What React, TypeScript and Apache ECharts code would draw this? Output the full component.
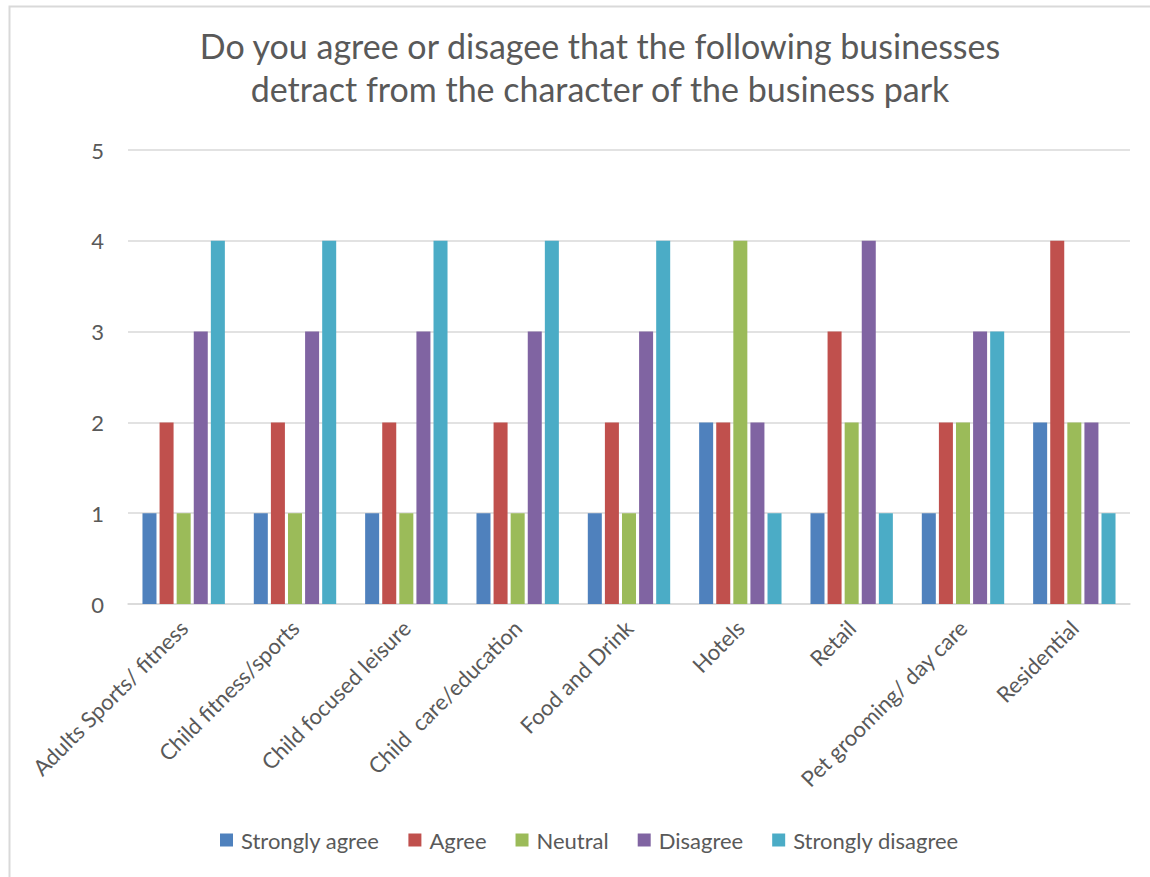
import React, { useEffect, useRef } from "react";
import * as echarts from "echarts";

const categories = [
  "Adults Sports/ fitness",
  "Child fitness/sports",
  "Child focused leisure",
  "Child  care/education",
  "Food and Drink",
  "Hotels",
  "Retail",
  "Pet grooming/ day care",
  "Residential",
];
const seriesNames = ["Strongly agree", "Agree", "Neutral", "Disagree", "Strongly disagree"];
const stronglyAgree = [1, 1, 1, 1, 1, 2, 1, 1, 2];
const agree = [2, 2, 2, 2, 2, 2, 3, 2, 4];
const neutral = [1, 1, 1, 1, 1, 4, 2, 2, 2];
const disagree = [3, 3, 3, 3, 3, 2, 4, 3, 2];
const stronglyDisagree = [4, 4, 4, 4, 4, 1, 1, 3, 1];
const seriesData = [stronglyAgree, agree, neutral, disagree, stronglyDisagree];
const colors = ["#4F81BD", "#C0504D", "#9BBB59", "#8064A2", "#4BACC6"];
const yTicks = [0, 1, 2, 3, 4, 5];

const FONT = "Lato, 'Open Sans', sans-serif";
const TXT = "#595959";

export default function App() {
  const ref = useRef<HTMLDivElement>(null);
  useEffect(() => {
    document.body.style.margin = "0";
    const chart = echarts.init(ref.current!, null, { renderer: "svg" });
    chart.setOption({
      animation: false,
      backgroundColor: "#ffffff",
      textStyle: { fontFamily: FONT },
      title: {
        text: "Do you agree or disagee that the following businesses\ndetract from the character of the business park",
        left: 595,
        textAlign: "center",
        top: 19,
        textStyle: {
          fontFamily: FONT,
          fontSize: 34,
          fontWeight: "normal",
          color: TXT,
          lineHeight: 43,
        },
      },
      graphic: [
        {
          type: "rect",
          shape: { x: 9.5, y: 6.5, width: 1200, height: 1000 },
          style: { fill: "none", stroke: "#D9D9D9", lineWidth: 2 },
          silent: true,
        },
      ],
      legend: {
        bottom: 21,
        left: 215,
        itemWidth: 13,
        itemHeight: 13,
        itemGap: 29,
        icon: "rect",
        textStyle: { fontFamily: FONT, fontSize: 22, color: TXT, padding: [0, 0, 0, 3] },
        data: seriesNames,
      },
      grid: { left: 128, right: 20, top: 150, bottom: 273 },
      xAxis: {
        type: "category",
        data: categories,
        axisLine: { lineStyle: { color: "#D9D9D9", width: 1.5 } },
        axisTick: { show: false },
        axisLabel: {
          rotate: 45,
          interval: 0,
          fontFamily: FONT,
          fontSize: 22,
          color: TXT,
          margin: 20,
        },
      },
      yAxis: {
        type: "value",
        min: yTicks[0],
        max: yTicks[yTicks.length - 1],
        interval: 1,
        axisLine: { show: false },
        axisTick: { show: false },
        axisLabel: { fontFamily: FONT, fontSize: 22, color: TXT, margin: 24 },
        splitLine: { lineStyle: { color: "#D9D9D9", width: 1.5 } },
      },
      series: seriesNames.map((name, i) => ({
        name,
        type: "bar",
        data: seriesData[i],
        barGap: "22%",
        barCategoryGap: "26%",
        itemStyle: { color: colors[i] },
      })),
    });
    return () => chart.dispose();
  }, []);
  return <div ref={ref} style={{ width: 1150, height: 877 }} />;
}
